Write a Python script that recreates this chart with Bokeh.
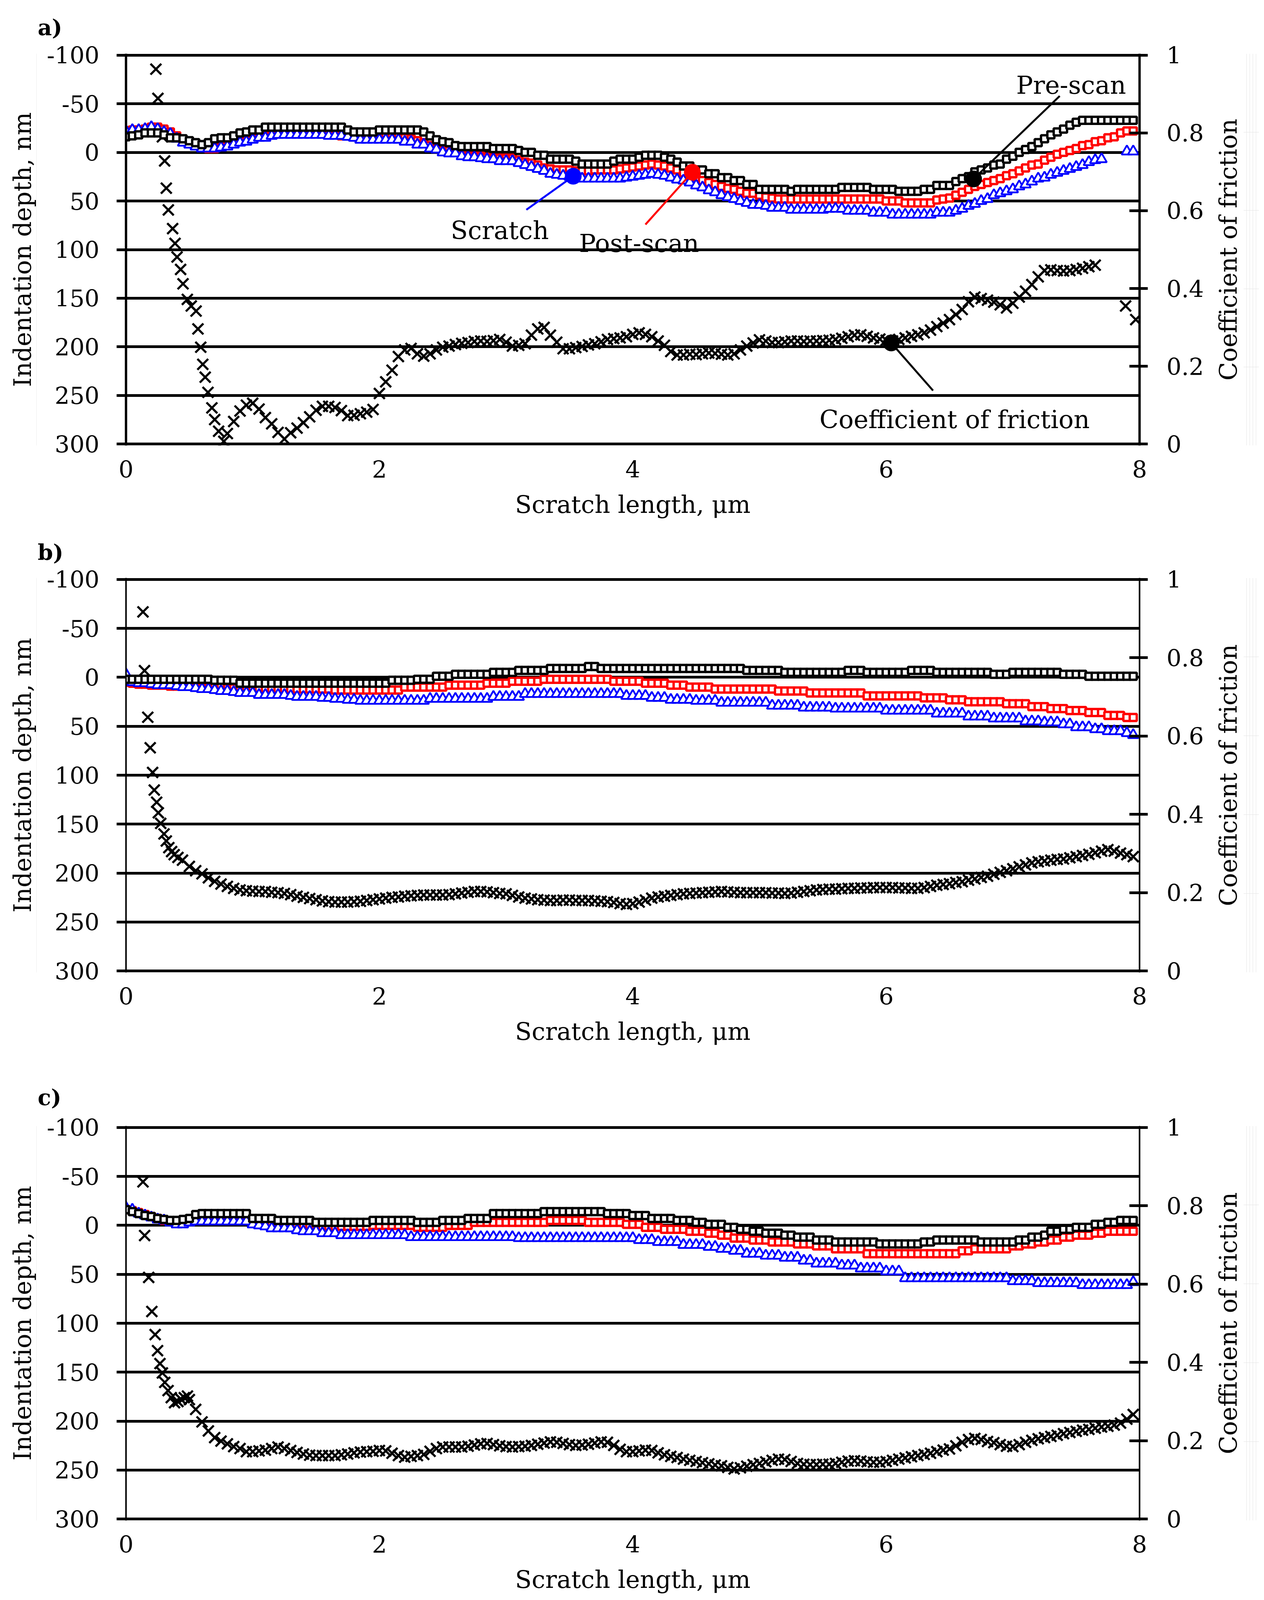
import numpy as np
from bokeh.plotting import figure
from bokeh.models import Range1d, LinearAxis, FixedTicker, Label, CustomJSTickFormatter, Title
from bokeh.layouts import column, row
from bokeh.embed import file_html
from bokeh.resources import INLINE

nan = float("nan")
STEP = 0.05  # sampling step of the depth profiles, um

X_TICKS = [0, 2, 4, 6, 8]
DEPTH_TICKS = [-100, -50, 0, 50, 100, 150, 200, 250, 300]
COF_TICKS = [0, 0.2, 0.4, 0.6, 0.8, 1]

# ---------------- panel a ----------------
a_pre = [-16, -17, -18, -20, -20, -20, -18, -15, -15, -14,
         -12, -10, -8, -10, -14, -15, -15, -17, -20, -21,
         -23, -23, -26, -26, -26, -26, -26, -26, -26, -26,
         -26, -26, -26, -26, -26, -23, -21, -21, -21, -21,
         -23, -23, -23, -23, -23, -23, -23, -21, -17, -13,
         -11, -10, -7, -6, -6, -6, -6, -6, -4, -4,
         -4, -4, -2, 0, 0, 3, 3, 7, 7, 7,
         7, 9, 12, 12, 12, 12, 12, 9, 7, 7,
         7, 5, 3, 3, 3, 5, 7, 10, 14, 14,
         18, 18, 22, 22, 26, 26, 29, 29, 33, 33,
         38, 38, 38, 38, 38, 40, 38, 38, 38, 38,
         38, 38, 38, 36, 36, 36, 36, 36, 38, 38,
         38, 38, 40, 40, 40, 40, 38, 38, 34, 34,
         34, 30, 27, 25, 20, 18, 16, 13, 12, 7,
         4, 0, -3, -6, -10, -14, -18, -21, -24, -28,
         -31, -33, -33, -33, -33, -33, -33, -33, -33, -33]
a_post = [-22, -23, -23, -24, -26, -26, -24, -21, -17, -13,
          -10, -7, -5, -4, -4, -6, -7, -9, -11, -13,
          -15, -16, -17, -18, -19, -19, -19, -19, -19, -19,
          -19, -19, -19, -18, -17, -17, -16, -16, -16, -16,
          -16, -16, -16, -16, -15, -14, -12, -10, -7, -4,
          -2, -2, 0, 2, 4, 4, 4, 5, 6, 6,
          6, 6, 8, 10, 11, 13, 16, 17, 18, 18,
          18, 19, 19, 19, 18, 18, 18, 18, 17, 16,
          15, 14, 13, 12, 13, 14, 16, 18, 21, 23,
          26, 29, 31, 33, 35, 37, 38, 40, 42, 42,
          44, 46, 47, 48, 48, 48, 48, 48, 48, 48,
          48, 48, 48, 48, 48, 48, 48, 48, 48, 48,
          50, 50, 50, 52, 52, 52, 52, 52, 49, 48,
          47, 44, 41, 38, 35, 33, 31, 29, 27, 24,
          22, 19, 16, 13, 12, 8, 5, 2, 0, -2,
          -4, -7, -8, -11, -12, -15, -16, -20, -22, -22]
a_scr = [-22, -23, -23, -24, -26, -24, -21, -19, -14, -10,
         -8, -6, -4, -4, -4, -5, -6, -8, -10, -11,
         -13, -15, -15, -17, -18, -18, -18, -18, -18, -18,
         -18, -18, -17, -17, -17, -16, -15, -13, -13, -13,
         -13, -13, -13, -13, -11, -11, -8, -8, -4, -3,
         0, 1, 1, 4, 5, 5, 6, 7, 7, 9,
         9, 9, 11, 13, 15, 17, 19, 22, 23, 24,
         25, 26, 27, 27, 27, 27, 27, 27, 27, 26,
         25, 24, 23, 22, 23, 24, 26, 28, 29, 31,
         34, 36, 39, 41, 44, 46, 48, 50, 52, 54,
         54, 55, 57, 57, 57, 59, 59, 59, 59, 59,
         59, 58, 58, 58, 60, 60, 60, 60, 62, 62,
         62, 64, 64, 64, 64, 64, 64, 64, 62, 62,
         62, 60, 58, 55, 53, 50, 48, 44, 42, 40,
         38, 35, 33, 30, 27, 26, 23, 21, 19, 17,
         15, 13, 10, 8, 7, nan, nan, nan, -1, -1]
a_cof_x_start = [0.236, 0.252, 0.287, 0.305, 0.318, 0.334, 0.368, 0.387, 0.403, 0.431,
                 0.450, 0.484, 0.515, 0.553, 0.568, 0.590, 0.606, 0.625, 0.647, 0.678,
                 0.700, 0.731, 0.772]
a_cof_start = [0.964, 0.889, 0.790, 0.728, 0.658, 0.602, 0.554, 0.516, 0.481, 0.449,
               0.412, 0.372, 0.355, 0.342, 0.296, 0.249, 0.205, 0.172, 0.133, 0.093,
               0.063, 0.033, 0.007]
a_cof_grid_from = 0.80
a_cof = [0.027, 0.058, 0.085, 0.100, 0.105, 0.090, 0.068, 0.052, 0.030, 0.013,
         0.029, 0.041, 0.055, 0.070, 0.087, 0.097, 0.097, 0.094, 0.086, 0.073,
         0.074, 0.078, 0.082, 0.089, 0.130, 0.160, 0.190, 0.225, 0.242, 0.246,
         0.232, 0.226, 0.232, 0.242, 0.249, 0.252, 0.256, 0.259, 0.261, 0.264,
         0.265, 0.264, 0.266, 0.269, 0.262, 0.252, 0.254, 0.258, 0.280, 0.296,
         0.300, 0.280, 0.262, 0.245, 0.245, 0.248, 0.251, 0.255, 0.258, 0.263,
         0.269, 0.271, 0.273, 0.276, 0.282, 0.286, 0.282, 0.276, 0.265, 0.254,
         0.238, 0.229, 0.229, 0.231, 0.230, 0.232, 0.234, 0.233, 0.231, 0.229,
         0.232, 0.242, 0.252, 0.260, 0.268, 0.265, 0.261, 0.261, 0.263, 0.265,
         0.265, 0.264, 0.265, 0.265, 0.266, 0.267, 0.269, 0.272, 0.276, 0.280,
         0.281, 0.277, 0.273, 0.270, 0.267, 0.265, 0.269, 0.273, 0.277, 0.281,
         0.286, 0.293, 0.302, 0.311, 0.320, 0.333, 0.346, 0.366, 0.378, 0.374,
         0.370, 0.365, 0.358, 0.350, 0.362, 0.378, 0.393, 0.410, 0.430, 0.446,
         0.448, 0.446, 0.445, 0.446, 0.449, 0.452, 0.456, 0.460]
a_cof_x_end = [7.89, 7.97]
a_cof_end = [0.355, 0.320]

# ---------------- panel b ----------------
b_pre = [2, 2, 2, 2, 2, 2, 2, 2, 2, 2,
         2, 2, 2, 2, 3, 3, 3, 3, 6, 6,
         6, 6, 6, 6, 6, 6, 6, 6, 6, 6,
         6, 6, 6, 6, 6, 6, 6, 6, 6, 6,
         6, 6, 3, 3, 3, 3, 2, 2, 2, -1,
         -1, -1, -3, -3, -3, -3, -3, -3, -5, -5,
         -5, -5, -7, -7, -7, -7, -7, -9, -9, -9,
         -9, -9, -9, -11, -11, -9, -9, -9, -9, -9,
         -9, -9, -9, -9, -9, -9, -9, -9, -9, -9,
         -9, -9, -9, -9, -9, -9, -9, -9, -7, -7,
         -7, -7, -7, -7, -5, -5, -5, -5, -5, -5,
         -5, -5, -5, -5, -7, -7, -7, -5, -5, -5,
         -5, -5, -5, -5, -7, -7, -7, -7, -5, -5,
         -5, -5, -5, -5, -5, -5, -5, -3, -3, -3,
         -5, -5, -5, -5, -5, -5, -5, -5, -3, -3,
         -3, -3, -1, -1, -1, -1, -1, -1, -1, -1]
b_post = [5, 6, 7, 7, 8, 8, 8, 9, 9, 9,
          9, 10, 10, 10, 10, 10, 11, 11, 11, 11,
          11, 11, 11, 12, 12, 12, 12, 12, 12, 12,
          12, 12, 12, 13, 13, 13, 13, 13, 13, 13,
          13, 13, 13, 13, 10, 10, 10, 10, 10, 10,
          10, 8, 8, 8, 8, 8, 8, 6, 6, 6,
          6, 4, 4, 4, 4, 4, 2, 2, 2, 2,
          2, 2, 2, 2, 2, 2, 2, 4, 4, 4,
          4, 4, 6, 6, 6, 6, 8, 8, 8, 10,
          10, 10, 10, 12, 12, 12, 12, 12, 12, 12,
          12, 12, 12, 14, 14, 14, 14, 14, 16, 16,
          16, 16, 16, 16, 16, 16, 16, 19, 19, 19,
          19, 19, 19, 19, 19, 19, 21, 21, 21, 21,
          23, 23, 23, 25, 25, 25, 25, 25, 25, 27,
          27, 27, 27, 30, 30, 30, 32, 32, 32, 34,
          34, 34, 36, 36, 36, 39, 39, 39, 41, 41]
b_scr = [-3, 5, 6, 6, 7, 8, 8, 8, 9, 10,
         10, 11, 12, 12, 13, 14, 14, 15, 16, 16,
         16, 18, 18, 18, 18, 18, 19, 20, 20, 20,
         20, 21, 21, 22, 22, 23, 23, 24, 24, 24,
         24, 24, 24, 24, 24, 24, 24, 24, 22, 22,
         22, 22, 22, 22, 22, 22, 22, 22, 20, 20,
         20, 20, 20, 17, 17, 17, 17, 17, 17, 17,
         17, 17, 17, 17, 17, 17, 17, 17, 17, 19,
         19, 19, 19, 21, 21, 21, 23, 23, 23, 23,
         24, 24, 24, 24, 26, 26, 26, 26, 26, 26,
         26, 26, 29, 29, 29, 29, 29, 31, 31, 31,
         31, 31, 32, 32, 32, 32, 32, 32, 32, 32,
         34, 34, 34, 34, 34, 34, 34, 34, 37, 37,
         37, 37, 37, 40, 40, 40, 40, 42, 42, 42,
         42, 42, 45, 45, 45, 46, 46, 46, 48, 48,
         51, 51, 51, 53, 53, 55, 55, 55, 57, 59]
b_cof_x_start = [0.134, 0.146, 0.172, 0.191, 0.210, 0.223, 0.242, 0.255, 0.274, 0.300,
                 0.318, 0.338, 0.360, 0.380, 0.410, 0.446]
b_cof_start = [0.917, 0.767, 0.648, 0.570, 0.507, 0.462, 0.431, 0.404, 0.377, 0.350,
               0.332, 0.315, 0.305, 0.297, 0.290, 0.283]
b_cof_grid_from = 0.50
b_cof = [0.267, 0.256, 0.248, 0.238, 0.229, 0.222, 0.216, 0.211, 0.207, 0.205,
         0.204, 0.203, 0.203, 0.201, 0.200, 0.198, 0.195, 0.191, 0.188, 0.185,
         0.182, 0.179, 0.177, 0.176, 0.176, 0.176, 0.177, 0.178, 0.180, 0.182,
         0.184, 0.186, 0.188, 0.189, 0.191, 0.192, 0.193, 0.194, 0.194, 0.194,
         0.194, 0.195, 0.197, 0.199, 0.201, 0.203, 0.203, 0.202, 0.200, 0.198,
         0.197, 0.193, 0.189, 0.186, 0.184, 0.182, 0.181, 0.180, 0.180, 0.181,
         0.181, 0.180, 0.180, 0.180, 0.179, 0.178, 0.177, 0.175, 0.172, 0.170,
         0.172, 0.176, 0.181, 0.186, 0.189, 0.191, 0.193, 0.195, 0.197, 0.198,
         0.199, 0.200, 0.201, 0.202, 0.203, 0.202, 0.201, 0.200, 0.200, 0.200,
         0.200, 0.200, 0.199, 0.199, 0.198, 0.199, 0.201, 0.203, 0.205, 0.207,
         0.208, 0.209, 0.209, 0.210, 0.211, 0.211, 0.212, 0.212, 0.213, 0.213,
         0.213, 0.213, 0.212, 0.212, 0.211, 0.211, 0.213, 0.216, 0.219, 0.221,
         0.223, 0.226, 0.228, 0.232, 0.235, 0.239, 0.242, 0.247, 0.252, 0.256,
         0.261, 0.266, 0.271, 0.276, 0.279, 0.281, 0.283, 0.285, 0.286, 0.289,
         0.292, 0.295, 0.298, 0.302, 0.306, 0.310, 0.306, 0.301, 0.297, 0.292]

# ---------------- panel c ----------------
c_pre = [-16, -14, -12, -10, -9, -7, -6, -5, -5, -6,
         -7, -11, -12, -12, -12, -12, -12, -12, -12, -12,
         -7, -7, -7, -7, -5, -5, -5, -5, -5, -5,
         -3, -3, -3, -3, -3, -3, -3, -3, -3, -5,
         -5, -5, -5, -5, -5, -5, -3, -3, -3, -3,
         -5, -5, -5, -5, -7, -7, -7, -7, -12, -12,
         -12, -12, -12, -12, -12, -12, -14, -14, -14, -14,
         -14, -14, -14, -14, -14, -14, -12, -12, -12, -12,
         -10, -10, -10, -7, -7, -7, -7, -5, -5, -5,
         -3, -3, -1, -1, -1, 2, 2, 4, 4, 6,
         6, 8, 8, 8, 10, 10, 12, 12, 12, 15,
         15, 15, 17, 17, 17, 17, 17, 17, 17, 19,
         19, 19, 19, 19, 19, 19, 17, 17, 15, 15,
         15, 15, 15, 15, 15, 17, 17, 17, 17, 17,
         17, 15, 15, 12, 12, 10, 6, 6, 4, 4,
         2, 2, 2, -1, -1, -3, -3, -5, -5, -5]
c_post = [-16, -15, -13, -11, -9, -7, -5, -4, -3, -2,
          -4, -6, -7, -7, -7, -7, -6, -6, -5, -5,
          -4, -3, -2, -1, -1, 0, 0, 1, 1, 1,
          1, 1, 1, 1, 1, 1, 1, 1, 1, 0,
          0, 0, 0, 0, 0, 0, 2, 2, 2, 2,
          2, 0, 0, 0, 0, -3, -3, -3, -3, -3,
          -3, -3, -3, -3, -3, -3, -3, -5, -5, -5,
          -5, -5, -5, -3, -3, -3, -3, -3, -3, -1,
          -1, -1, 2, 2, 2, 4, 4, 4, 4, 6,
          6, 6, 8, 8, 10, 10, 13, 13, 13, 15,
          15, 15, 17, 17, 17, 17, 19, 19, 19, 21,
          21, 21, 24, 24, 24, 24, 24, 29, 29, 29,
          29, 29, 29, 29, 29, 29, 29, 29, 29, 29,
          29, 29, 26, 26, 24, 24, 24, 24, 24, 24,
          21, 21, 19, 19, 17, 17, 15, 15, 12, 12,
          10, 10, 10, 8, 8, 6, 6, 6, 6, 6]
c_scr = [-18, -16, -12, -10, -8, -6, -5, -3, -1, -1,
         -3, -4, -4, -4, -4, -4, -4, -4, -4, -4,
         -1, 0, 1, 3, 3, 3, 3, 5, 6, 6,
         6, 8, 8, 8, 10, 10, 10, 10, 10, 10,
         10, 10, 10, 10, 10, 12, 12, 12, 12, 12,
         12, 12, 12, 12, 12, 12, 12, 12, 12, 12,
         12, 12, 13, 13, 13, 13, 13, 13, 13, 13,
         13, 13, 13, 13, 13, 13, 13, 13, 13, 13,
         13, 15, 15, 15, 17, 17, 17, 17, 20, 20,
         20, 20, 22, 22, 24, 24, 26, 26, 29, 29,
         29, 31, 31, 31, 33, 33, 33, 36, 36, 39,
         39, 39, 39, 41, 41, 41, 44, 44, 44, 44,
         47, 47, 47, 54, 54, 54, 54, 54, 54, 54,
         54, 54, 54, 54, 54, 54, 54, 54, 54, 54,
         57, 57, 57, 57, 59, 59, 59, 59, 59, 59,
         59, 61, 61, 61, 61, 61, 61, 61, 61, 58]
c_cof_x_start = [0.134, 0.147, 0.179, 0.204, 0.230, 0.249, 0.268, 0.287, 0.306, 0.332,
                 0.357, 0.383, 0.410, 0.434, 0.460, 0.485]
c_cof_start = [0.861, 0.724, 0.617, 0.530, 0.471, 0.430, 0.397, 0.373, 0.349, 0.328,
               0.310, 0.297, 0.300, 0.306, 0.310, 0.314]
c_cof_grid_from = 0.50
c_cof = [0.305, 0.280, 0.248, 0.225, 0.208, 0.199, 0.192, 0.185, 0.180, 0.172,
         0.172, 0.174, 0.176, 0.180, 0.184, 0.180, 0.175, 0.170, 0.166, 0.163,
         0.162, 0.162, 0.162, 0.162, 0.164, 0.166, 0.169, 0.171, 0.172, 0.173,
         0.175, 0.174, 0.168, 0.162, 0.158, 0.160, 0.162, 0.165, 0.173, 0.180,
         0.184, 0.184, 0.184, 0.184, 0.186, 0.189, 0.192, 0.193, 0.190, 0.187,
         0.185, 0.184, 0.185, 0.186, 0.188, 0.191, 0.194, 0.197, 0.196, 0.193,
         0.190, 0.188, 0.189, 0.191, 0.194, 0.197, 0.196, 0.188, 0.178, 0.172,
         0.172, 0.174, 0.176, 0.175, 0.169, 0.164, 0.160, 0.157, 0.153, 0.150,
         0.147, 0.144, 0.141, 0.138, 0.136, 0.132, 0.128, 0.131, 0.135, 0.139,
         0.142, 0.146, 0.150, 0.153, 0.152, 0.147, 0.142, 0.140, 0.139, 0.139,
         0.140, 0.140, 0.142, 0.145, 0.148, 0.149, 0.148, 0.146, 0.145, 0.145,
         0.147, 0.150, 0.153, 0.156, 0.159, 0.162, 0.165, 0.168, 0.172, 0.176,
         0.179, 0.187, 0.196, 0.203, 0.206, 0.203, 0.198, 0.195, 0.190, 0.186,
         0.185, 0.190, 0.196, 0.201, 0.205, 0.208, 0.211, 0.214, 0.218, 0.221,
         0.224, 0.227, 0.229, 0.232, 0.235, 0.237, 0.240, 0.245, 0.255, 0.267]

# ---------------- annotations of panel a (data coordinates) ----------------
ann_scratch = dict(dot=(3.53, 24.5), end=(3.16, 59.0), text=(2.95, 80.3))
ann_post = dict(dot=(4.47, 20.4), end=(4.10, 74.2), text=(4.05, 93.6))
ann_pre = dict(dot=(6.69, 27.3), end=(7.37, -58.0), text=(7.46, -69.0))
ann_cof = dict(dot=(6.04, 0.260), end=(6.37, 0.1375), text=(6.54, 0.063))

FONT = "DejaVu Serif"
TICK_FS = "60px"
TITLE_FS = "62px"
ANN_FS = "64px"
PAD = 1.5  # nm of padding so that the edge grid lines are not clipped
PLAIN = "return String(tick)"

# horizontal layout (px)
FRAME_W = 2594
LEFT_STRIP_W, LEFT_STRIP_B = 94, 93
RIGHT_STRIP_W, RIGHT_STRIP_B = 117, 77
MAIN_LEFT_B, MAIN_RIGHT_B = 228, 186
LETTER_OFFSET = -226


def grid_x(n, start=0.0):
    return [round(start + i * STEP, 3) for i in range(n)]


def style_text(ax):
    ax.major_label_text_font = FONT
    ax.major_label_text_font_size = TICK_FS
    ax.major_label_text_color = "black"


def title_strip(text, width, border, standoff, frame_h, top_b, bottom_b, offset):
    s = figure(frame_width=width - border, frame_height=frame_h,
               min_border_left=border, min_border_right=0,
               min_border_top=top_b, min_border_bottom=bottom_b,
               x_range=Range1d(0, 1), y_range=Range1d(0, 1),
               x_axis_location=None, y_axis_location=None,
               output_backend="svg", toolbar_location=None,
               background_fill_color="white", border_fill_color="white",
               background_fill_alpha=0, border_fill_alpha=0,
               outline_line_color=None)
    s.add_layout(Title(text=text, align="center", offset=offset, standoff=standoff,
                       text_font=FONT, text_font_size=TITLE_FS, text_font_style="normal",
                       text_color="black", vertical_align="bottom"), "left")
    return s


def make_panel(pre, post, scr, cof_x, cof_y, frame_h, top_b, bottom_b, letter,
               letter_standoff, thick_axes=True):
    p = figure(frame_width=FRAME_W, frame_height=frame_h,
               min_border_left=MAIN_LEFT_B, min_border_right=MAIN_RIGHT_B,
               min_border_top=top_b, min_border_bottom=bottom_b,
               x_range=Range1d(0, 8), y_range=Range1d(300 + PAD, -100 - PAD),
               output_backend="svg", toolbar_location=None,
               background_fill_color="white", border_fill_color="white",
               outline_line_color=None)
    p.extra_y_ranges = {"cof": Range1d(-PAD / 400.0, 1 + PAD / 400.0)}

    xa = p.xaxis[0]
    xa.ticker = FixedTicker(ticks=X_TICKS)
    xa.major_tick_line_color = None
    xa.minor_tick_line_color = None
    xa.axis_line_color = None
    style_text(xa)
    xa.major_label_standoff = 32
    xa.axis_label = "Scratch length, \u03bcm"
    xa.axis_label_standoff = 29
    xa.axis_label_text_font = FONT
    xa.axis_label_text_font_size = TITLE_FS
    xa.axis_label_text_font_style = "normal"
    xa.axis_label_text_color = "black"

    ya = p.yaxis[0]
    ya.ticker = FixedTicker(ticks=DEPTH_TICKS)
    ya.formatter = CustomJSTickFormatter(code=PLAIN)
    ya.major_tick_out = 24
    ya.major_tick_in = 0
    ya.major_tick_line_width = 7
    ya.major_tick_line_color = "black"
    ya.minor_tick_line_color = None
    ya.axis_line_width = 6 if thick_axes else 4
    ya.axis_line_color = "black"
    style_text(ya)
    ya.major_label_standoff = 44

    ra = LinearAxis(y_range_name="cof", ticker=FixedTicker(ticks=COF_TICKS),
                    formatter=CustomJSTickFormatter(code=PLAIN))
    ra.major_tick_out = 21
    ra.major_tick_in = 26
    ra.major_tick_line_width = 7
    ra.major_tick_line_color = "black"
    ra.minor_tick_line_color = None
    ra.axis_line_width = 6 if thick_axes else 4
    ra.axis_line_color = "black"
    style_text(ra)
    ra.major_label_standoff = 48
    p.add_layout(ra, "right")

    p.xgrid.visible = False
    p.ygrid.ticker = FixedTicker(ticks=DEPTH_TICKS)
    p.ygrid.grid_line_color = "black"
    p.ygrid.grid_line_width = 7

    # coefficient of friction (right axis)
    p.scatter(cof_x, cof_y, marker="x", size=39, line_width=5.5, line_color="black",
              y_range_name="cof")
    # depth profiles
    p.scatter(grid_x(len(post)), np.array(post, dtype=float), marker="square", size=18,
              line_width=6, line_color="#ff0000", fill_color="white")
    p.scatter(grid_x(len(scr)), np.array(scr, dtype=float), marker="triangle", size=27,
              line_width=4.5, line_color="#0000ff", fill_color="white")
    p.scatter(grid_x(len(pre)), np.array(pre, dtype=float), marker="square", size=18,
              line_width=6, line_color="black", fill_color="white")

    p.add_layout(Title(text=letter, align="left", offset=LETTER_OFFSET, text_font=FONT,
                       text_font_size="56px", text_font_style="bold", text_color="black",
                       standoff=letter_standoff, vertical_align="bottom"), "above")
    return p


def annotate(p, ann, color, text, range_name="default"):
    (x0, y0), (x1, y1), (tx, ty) = ann["dot"], ann["end"], ann["text"]
    p.line([x0, x1], [y0, y1], line_width=5, line_color=color, y_range_name=range_name)
    p.scatter([x0], [y0], marker="circle", size=42, line_color=color, fill_color=color,
              y_range_name=range_name)
    p.add_layout(Label(x=tx, y=ty, text=text, text_font=FONT, text_font_size=ANN_FS,
                       text_color="black", text_align="center", text_baseline="alphabetic",
                       y_range_name=range_name))


def panel_row(main, frame_h, top_b, bottom_b, left_off, right_off):
    ls = title_strip("Indentation depth, nm", LEFT_STRIP_W, LEFT_STRIP_B, 0,
                     frame_h, top_b, bottom_b, left_off)
    rs = title_strip("Coefficient of friction", RIGHT_STRIP_W, RIGHT_STRIP_B, 5,
                     frame_h, top_b, bottom_b, right_off)
    return row(ls, main, rs, spacing=0)


# ---------- panel a ----------
a_cx = a_cof_x_start + grid_x(len(a_cof), a_cof_grid_from) + a_cof_x_end
a_cy = a_cof_start + a_cof + a_cof_end
pa = make_panel(a_pre, a_post, a_scr, a_cx, a_cy, frame_h=1003, top_b=136, bottom_b=205,
                letter="a)", letter_standoff=69, thick_axes=True)
annotate(pa, ann_scratch, "#0000ff", "Scratch")
annotate(pa, ann_post, "#ff0000", "Post-scan")
annotate(pa, ann_pre, "black", "Pre-scan")
annotate(pa, ann_cof, "black", "Coefficient of friction", range_name="cof")
row_a = panel_row(pa, 1003, 136, 205, 56, 86)

# ---------- panel b ----------
b_cx = b_cof_x_start + grid_x(len(b_cof), b_cof_grid_from)
b_cy = b_cof_start + b_cof
pb = make_panel(b_pre, b_post, b_scr, b_cx, b_cy, frame_h=1010, top_b=132, bottom_b=244,
                letter="b)", letter_standoff=66, thick_axes=False)
row_b = panel_row(pb, 1010, 132, 244, 55, 93)

# ---------- panel c ----------
c_cx = c_cof_x_start + grid_x(len(c_cof), c_cof_grid_from)
c_cy = c_cof_start + c_cof
pc = make_panel(c_pre, c_post, c_scr, c_cx, c_cy, frame_h=1010, top_b=147, bottom_b=216,
                letter="c)", letter_standoff=81, thick_axes=False)
row_c = panel_row(pc, 1010, 147, 216, 62, 105)

layout = column(row_a, row_b, row_c, spacing=0)
open("out.html", "w").write(file_html(layout, INLINE))
